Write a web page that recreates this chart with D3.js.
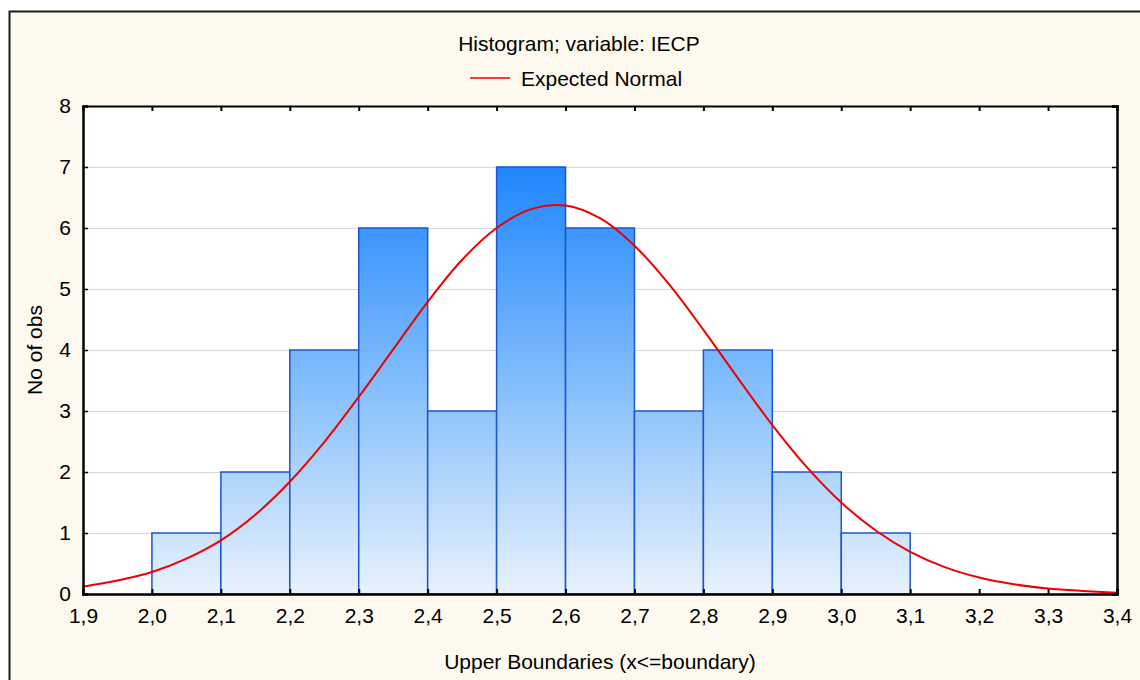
<!DOCTYPE html>
<html>
<head>
<meta charset="utf-8">
<script src="https://cdn.jsdelivr.net/npm/d3@7"></script>
<style>
  html, body { margin: 0; padding: 0; background: #ffffff; }
  svg { display: block; font-family: 'Liberation Sans', Arial, sans-serif; }
</style>
</head>
<body>
<div id="chart"></div>
<script>
// Histogram bins (upper boundaries) and observed counts
var binStarts = [2.0, 2.1, 2.2, 2.3, 2.4, 2.5, 2.6, 2.7, 2.8, 2.9, 3.0];
var binEnds   = [2.1, 2.2, 2.3, 2.4, 2.5, 2.6, 2.7, 2.8, 2.9, 3.0, 3.1];
var counts    = [1, 2, 4, 6, 3, 7, 6, 3, 4, 2, 1];

// Expected normal curve
var curveX = [1.90, 1.95, 2.00, 2.05, 2.10, 2.15, 2.20, 2.25, 2.30, 2.35, 2.40,
              2.45, 2.50, 2.55, 2.60, 2.65, 2.70, 2.75, 2.80, 2.85, 2.90, 2.95,
              3.00, 3.05, 3.10, 3.15, 3.20, 3.25, 3.30, 3.35, 3.40];
var curveY = [0.12, 0.22, 0.36, 0.58, 0.88, 1.30, 1.84, 2.49, 3.23, 4.01, 4.79,
              5.48, 6.00, 6.31, 6.37, 6.16, 5.71, 5.08, 4.33, 3.54, 2.77, 2.08,
              1.50, 1.04, 0.69, 0.44, 0.27, 0.16, 0.09, 0.05, 0.02];

var xTicks = [1.9, 2.0, 2.1, 2.2, 2.3, 2.4, 2.5, 2.6, 2.7, 2.8, 2.9, 3.0, 3.1, 3.2, 3.3, 3.4];
var yTicks = [0, 1, 2, 3, 4, 5, 6, 7, 8];

var W = 1140, H = 680;
var margin = {top: 106, right: 23, bottom: 86, left: 83};
var width = W - margin.left - margin.right;
var height = H - margin.top - margin.bottom;
var fontFamily = "'Liberation Sans', Arial, sans-serif";
var fontSize = '21px';

var svg = d3.select('#chart').append('svg')
  .attr('width', W)
  .attr('height', H);

// outer frame
svg.append('rect')
  .attr('x', 9.5).attr('y', 11.5)
  .attr('width', W + 10).attr('height', H + 10)
  .attr('fill', '#fdf9ef')
  .attr('stroke', '#1a1a1a')
  .attr('stroke-width', 2);

var defs = svg.append('defs');

var x = d3.scaleLinear().domain([1.9, 3.4]).range([0, width]);
var y = d3.scaleLinear().domain([0, 8]).range([height, 0]);

var grad = defs.append('linearGradient')
  .attr('id', 'barGrad')
  .attr('gradientUnits', 'userSpaceOnUse')
  .attr('x1', 0).attr('x2', 0)
  .attr('y1', y(7)).attr('y2', y(0));
grad.append('stop').attr('offset', '0%').attr('stop-color', '#1e86ff');
grad.append('stop').attr('offset', '55%').attr('stop-color', '#8cc2fb');
grad.append('stop').attr('offset', '100%').attr('stop-color', '#e8f2fd');

var g = svg.append('g')
  .attr('transform', 'translate(' + margin.left + ',' + margin.top + ')');

// plot background
g.append('rect')
  .attr('width', width).attr('height', height)
  .attr('fill', '#ffffff');

// horizontal grid
g.append('g')
  .selectAll('line')
  .data(yTicks.slice(1, -1))
  .join('line')
  .attr('x1', 0).attr('x2', width)
  .attr('y1', function(d) { return y(d) + 0.5; })
  .attr('y2', function(d) { return y(d) + 0.5; })
  .attr('stroke', '#d8d8d8')
  .attr('stroke-width', 1);

// bars
var bins = binStarts.map(function(s, i) { return {x0: s, x1: binEnds[i], n: counts[i]}; });
g.append('g')
  .selectAll('rect')
  .data(bins)
  .join('rect')
  .attr('x', function(d) { return x(d.x0); })
  .attr('y', function(d) { return y(d.n); })
  .attr('width', function(d) { return x(d.x1) - x(d.x0); })
  .attr('height', function(d) { return y(0) - y(d.n); })
  .attr('fill', 'url(#barGrad)')
  .attr('stroke', '#1d55cc')
  .attr('stroke-width', 1.5);

// expected normal curve
var curvePts = curveX.map(function(v, i) { return [v, curveY[i]]; });
g.append('path')
  .datum(curvePts)
  .attr('fill', 'none')
  .attr('stroke', '#ee0000')
  .attr('stroke-width', 2)
  .attr('d', d3.line()
    .x(function(d) { return x(d[0]); })
    .y(function(d) { return y(d[1]); })
    .curve(d3.curveCatmullRom)
  );

function styleText(a) {
  a.attr('font-size', fontSize).attr('font-family', fontFamily);
  a.selectAll('text').attr('fill', '#000');
}

// axes (ticks pointing inward)
g.append('g')
  .attr('transform', 'translate(0,' + height + ')')
  .call(d3.axisBottom(x).tickValues(xTicks).tickSize(-5).tickPadding(14)
    .tickFormat(function(d) { return d3.format('.1f')(d).replace('.', ','); }))
  .call(styleText)
  .call(function(a) {
    a.select('.domain').attr('stroke', '#000').attr('stroke-width', 2.5);
    a.selectAll('.tick line').attr('stroke', '#000').attr('stroke-width', 2);
  });

g.append('g')
  .call(d3.axisTop(x).tickValues(xTicks).tickSize(-5).tickFormat(''))
  .call(function(a) {
    a.select('.domain').attr('stroke', '#000').attr('stroke-width', 2);
    a.selectAll('.tick line').attr('stroke', '#000').attr('stroke-width', 2);
  });

g.append('g')
  .call(d3.axisLeft(y).tickValues(yTicks).tickSize(-5).tickPadding(12))
  .call(styleText)
  .call(function(a) {
    a.select('.domain').attr('stroke', '#000').attr('stroke-width', 2.5);
    a.selectAll('.tick line').attr('stroke', '#000').attr('stroke-width', 1.5);
  });

g.append('g')
  .attr('transform', 'translate(' + width + ',0)')
  .call(d3.axisRight(y).tickValues(yTicks).tickSize(-5).tickFormat(''))
  .call(function(a) {
    a.select('.domain').attr('stroke', '#000').attr('stroke-width', 2.5);
    a.selectAll('.tick line').attr('stroke', '#000').attr('stroke-width', 1.5);
  });

// axis titles
svg.append('text')
  .attr('x', 600)
  .attr('y', 669)
  .attr('text-anchor', 'middle')
  .attr('font-size', fontSize)
  .text('Upper Boundaries (x<=boundary)');

svg.append('text')
  .attr('transform', 'translate(42,' + (margin.top + height / 2) + ') rotate(-90)')
  .attr('text-anchor', 'middle')
  .attr('font-size', fontSize)
  .text('No of obs');

// title and legend
svg.append('text')
  .attr('x', 579)
  .attr('y', 51)
  .attr('text-anchor', 'middle')
  .attr('font-size', fontSize)
  .text('Histogram; variable: IECP');

svg.append('line')
  .attr('x1', 470).attr('x2', 510)
  .attr('y1', 78).attr('y2', 78)
  .attr('stroke', '#ee0000')
  .attr('stroke-width', 1.5);

svg.append('text')
  .attr('x', 521)
  .attr('y', 86)
  .attr('font-size', fontSize)
  .text('Expected Normal');
</script>
</body>
</html>
